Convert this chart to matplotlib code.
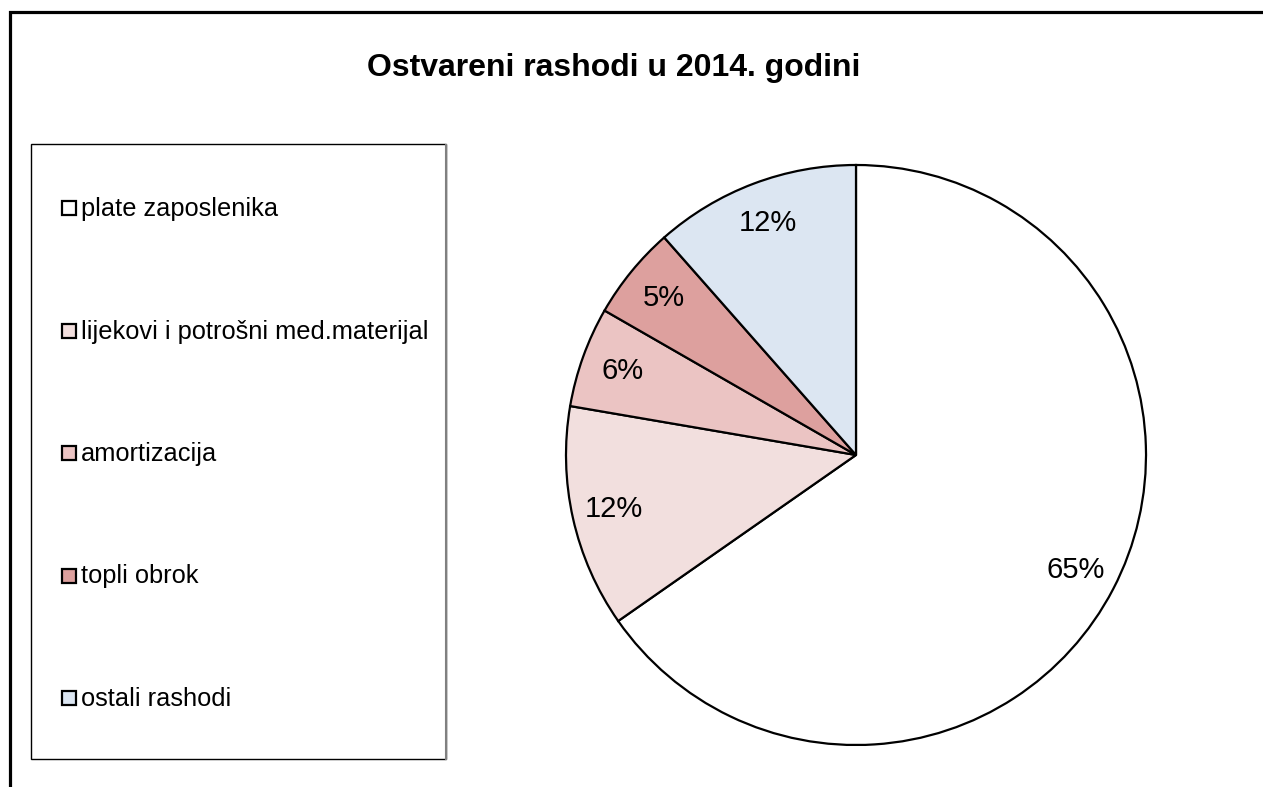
import matplotlib.pyplot as plt
import numpy as np
from matplotlib.patches import Rectangle

categories = ['plate zaposlenika', 'lijekovi i potrošni med.materijal',
              'amortizacija', 'topli obrok', 'ostali rashodi']
shares = [65.3, 12.4, 5.6, 5.2, 11.5]
colors = ['#FFFFFF', '#F2DFDE', '#EBC4C3', '#DDA09E', '#DCE6F2']
title = 'Ostvareni rashodi u 2014. godini'

W, H = 1263, 787
plt.rcParams['font.family'] = ['Liberation Sans', 'DejaVu Sans']

fig = plt.figure(figsize=(W / 100, H / 100), dpi=100)
ax = fig.add_axes([0, 0, 1, 1])


def py(y):
    # pixel row (from top) -> data y
    return H - y


cx, cy, r = 856, py(455), 290
wedges, texts, autotexts = ax.pie(
    shares, colors=colors, startangle=90, counterclock=False,
    center=(cx, cy), radius=r, autopct='%.0f%%', pctdistance=0.855,
    wedgeprops=dict(edgecolor='black', linewidth=1.6),
    textprops=dict(fontsize=21, color='black'))

ax.set_xlim(0, W)
ax.set_ylim(0, H)
ax.set_aspect('equal')
ax.axis('off')

# outer chart frame (cropped on the right and bottom)
ax.add_patch(Rectangle((10, -20), W + 20, py(12) + 20, fill=False,
                       edgecolor='black', linewidth=2.3, clip_on=False))

ax.text(614, py(68), title, fontsize=23, fontweight='bold',
        ha='center', va='center')

# legend box
ax.add_patch(Rectangle((31, py(759)), 415, 615, fill=False,
                       edgecolor='black', linewidth=1.0))
ax.plot([446, 446], [py(145), py(759)], color='#808080', linewidth=1.5)
for i, (name, c) in enumerate(zip(categories, colors)):
    y = py(208 + 122.5 * i)
    ax.add_patch(Rectangle((62, y - 7), 14, 14, facecolor=c,
                           edgecolor='black', linewidth=1.6))
    ax.text(81, y - 1, name, fontsize=18.3, ha='left', va='center')

fig.savefig('out.png', dpi=100)
